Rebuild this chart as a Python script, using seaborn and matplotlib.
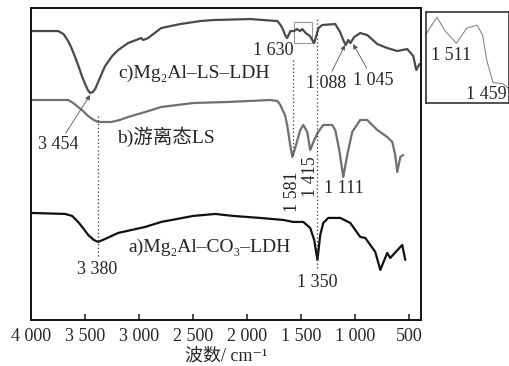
import matplotlib
matplotlib.use("Agg")
import matplotlib.pyplot as plt
import seaborn as sns
import pandas as pd

# ---- data (wavenumber cm-1, relative transmittance, arbitrary units) ----
c_wn = [4000, 3750, 3700, 3657, 3630, 3600, 3565, 3530, 3500, 3475, 3454, 3430, 3407, 3360,
        3315, 3250, 3194, 3102, 2981, 2963, 2917, 2796, 2620, 2435, 2315, 1972, 1722, 1690,
        1667, 1645, 1630, 1600, 1565, 1540, 1511, 1490, 1459, 1420, 1380, 1340, 1306, 1185,
        1140, 1111, 1088, 1065, 1045, 1010, 954, 889, 796, 704, 611, 519, 463, 435, 405]
c_t = [289, 289, 286, 279, 273, 265, 255, 244, 236, 230, 227, 228, 231, 243,
       254, 264, 270, 277, 282, 280, 282, 292, 296, 299, 300, 301, 299, 295,
       290, 284, 282, 289, 289, 291, 289, 291, 287, 284, 277, 292, 295, 296,
       288, 280, 275, 280, 277, 283, 287, 285, 276, 272, 269, 271, 264, 250, 256]

b_wn = [4000, 3657, 3610, 3565, 3520, 3472, 3420, 3380, 3259, 3180, 3102, 2944, 2796, 2500,
        2185, 1787, 1720, 1694, 1650, 1630, 1602, 1583, 1556, 1509, 1481, 1444, 1417, 1380,
        1343, 1296, 1213, 1185, 1148, 1111, 1074, 1028, 954, 889, 796, 704, 657, 630, 611,
        583, 556]
b_t = [220, 220, 217, 213, 209, 204, 200, 198, 198, 200, 203, 208, 213, 217,
       218, 220, 219, 215, 205, 195, 175, 163, 172, 190, 195, 188, 170, 180,
       188, 195, 195, 190, 170, 143, 165, 188, 200, 200, 190, 183, 178, 165, 148,
       163, 165]

a_wn = [4000, 3685, 3620, 3565, 3520, 3472, 3420, 3380, 3315, 3194, 2944, 2796, 2500, 2296,
        2130, 1880, 1667, 1574, 1481, 1417, 1380, 1350, 1324, 1296, 1250, 1139, 1046, 954,
        907, 815, 768, 704, 676, 565, 537]
a_t = [107, 106, 104, 98, 92, 85, 80, 78, 81, 87, 93, 98, 104, 106,
       104, 102, 100, 98, 98, 92, 80, 60, 85, 97, 102, 102, 97, 83,
       82, 68, 50, 67, 62, 75, 60]

# inset: enlarged 1 555-1 435 cm-1 region of curve c
in_wn = [1554, 1539, 1528, 1511, 1506, 1496, 1481, 1473, 1467, 1458, 1444, 1435]
in_t = [69, 85, 72, 59, 64, 74, 77, 67, 42, 20, 19, 14]

xticks = [4000, 3500, 3000, 2500, 2000, 1500, 1000, 500]
xtick_labels = ["4 000", "3 500", "3 000", "2 500", "2 000", "1 500", "1 000", "500"]

SERIF = ["Liberation Serif", "DejaVu Serif", "Noto Sans CJK SC"]

sns.set_style("white")
plt.rcParams["font.family"] = SERIF
plt.rcParams["axes.unicode_minus"] = False

fig = plt.figure(figsize=(5.1, 3.66), dpi=100)
ax = fig.add_axes([0.061, 0.126, 0.765, 0.852])

df_a = pd.DataFrame({"wn": a_wn, "t": a_t})
df_b = pd.DataFrame({"wn": b_wn, "t": b_t})
df_c = pd.DataFrame({"wn": c_wn, "t": c_t})
sns.lineplot(data=df_c, x="wn", y="t", color="#4a4a4a", lw=1.6, ax=ax)
sns.lineplot(data=df_b, x="wn", y="t", color="#707070", lw=1.6, ax=ax)
sns.lineplot(data=df_a, x="wn", y="t", color="#111111", lw=1.6, ax=ax)

ax.set_xlim(4000, 389)
ax.set_ylim(0, 312)
ax.set_xticks(xticks)
ax.set_xticklabels(xtick_labels)
ax.set_yticks([])
ax.tick_params(axis="x", direction="in", length=4, width=1.2, labelsize=13, pad=6,
               bottom=True, top=False)
for s in ax.spines.values():
    s.set_color("#111111")
    s.set_linewidth(1.4)
ax.set_ylabel("")
ax.set_xlabel("波数/ cm⁻¹", fontsize=13, labelpad=2)

fs = 13
fl = 14
# curve labels
ax.text(3194, 247, "c)Mg₂Al–LS–LDH", fontsize=fl, ha="left", va="center")
ax.text(3204, 183, "b)游离态LS", fontsize=fl, ha="left", va="center")
ax.text(3102, 73, "a)Mg₂Al–CO₃–LDH", fontsize=fl, ha="left", va="center")

# peak labels
arrow = dict(arrowstyle="-|>", color="#555555", lw=0.6, mutation_scale=7,
             shrinkA=0, shrinkB=0)
ax.annotate("3 454", xy=(3454, 225), xytext=(3750, 175), fontsize=fs,
            ha="center", va="center", arrowprops=arrow)
ax.text(3389, 50, "3 380", fontsize=fs, ha="center", va="center")
ax.text(1574, 270, "1 630", fontsize=fs, ha="right", va="center")
ax.text(1583, 128, "1 581", fontsize=fs, ha="center", va="center", rotation=90)
ax.text(1417, 143, "1 415", fontsize=fs, ha="center", va="center", rotation=90)
ax.text(1102, 131, "1 111", fontsize=fs, ha="center", va="center")
ax.annotate("1 088", xy=(1095, 275), xytext=(1269, 237), fontsize=fs,
            ha="center", va="center", arrowprops=arrow)
ax.annotate("1 045", xy=(1019, 276), xytext=(833, 240), fontsize=fs,
            ha="center", va="center", arrowprops=arrow)
ax.text(1352, 37, "1 350", fontsize=fs, ha="center", va="center")

# dotted guide lines
dot = dict(color="#333333", lw=0.9, ls=(0, (1, 2)))
ax.plot([3380, 3380], [64, 205], **dot)
ax.plot([1575, 1575], [165, 260], **dot)
ax.plot([1350, 1350], [52, 302], **dot)

# box marking the enlarged region
ax.add_patch(plt.Rectangle((1398, 277), 167, 21, fill=False, ec="#999999", lw=0.8))

# inset
axi = fig.add_axes([0.835, 0.719, 0.163, 0.248])
df_i = pd.DataFrame({"wn": in_wn, "t": in_t})
sns.lineplot(data=df_i, x="wn", y="t", color="#888888", lw=0.8, ax=axi)
axi.set_xlim(1555, 1435)
axi.set_ylim(0, 90)
axi.set_xticks([])
axi.set_yticks([])
axi.set_xlabel("")
axi.set_ylabel("")
for s in axi.spines.values():
    s.set_color("#333333")
    s.set_linewidth(1.2)
axi.text(0.30, 0.52, "1 511", fontsize=fs, ha="center", va="center", transform=axi.transAxes)
axi.text(0.73, 0.09, "1 459", fontsize=fs, ha="center", va="center", transform=axi.transAxes)

fig.savefig("out.png", dpi=100)
